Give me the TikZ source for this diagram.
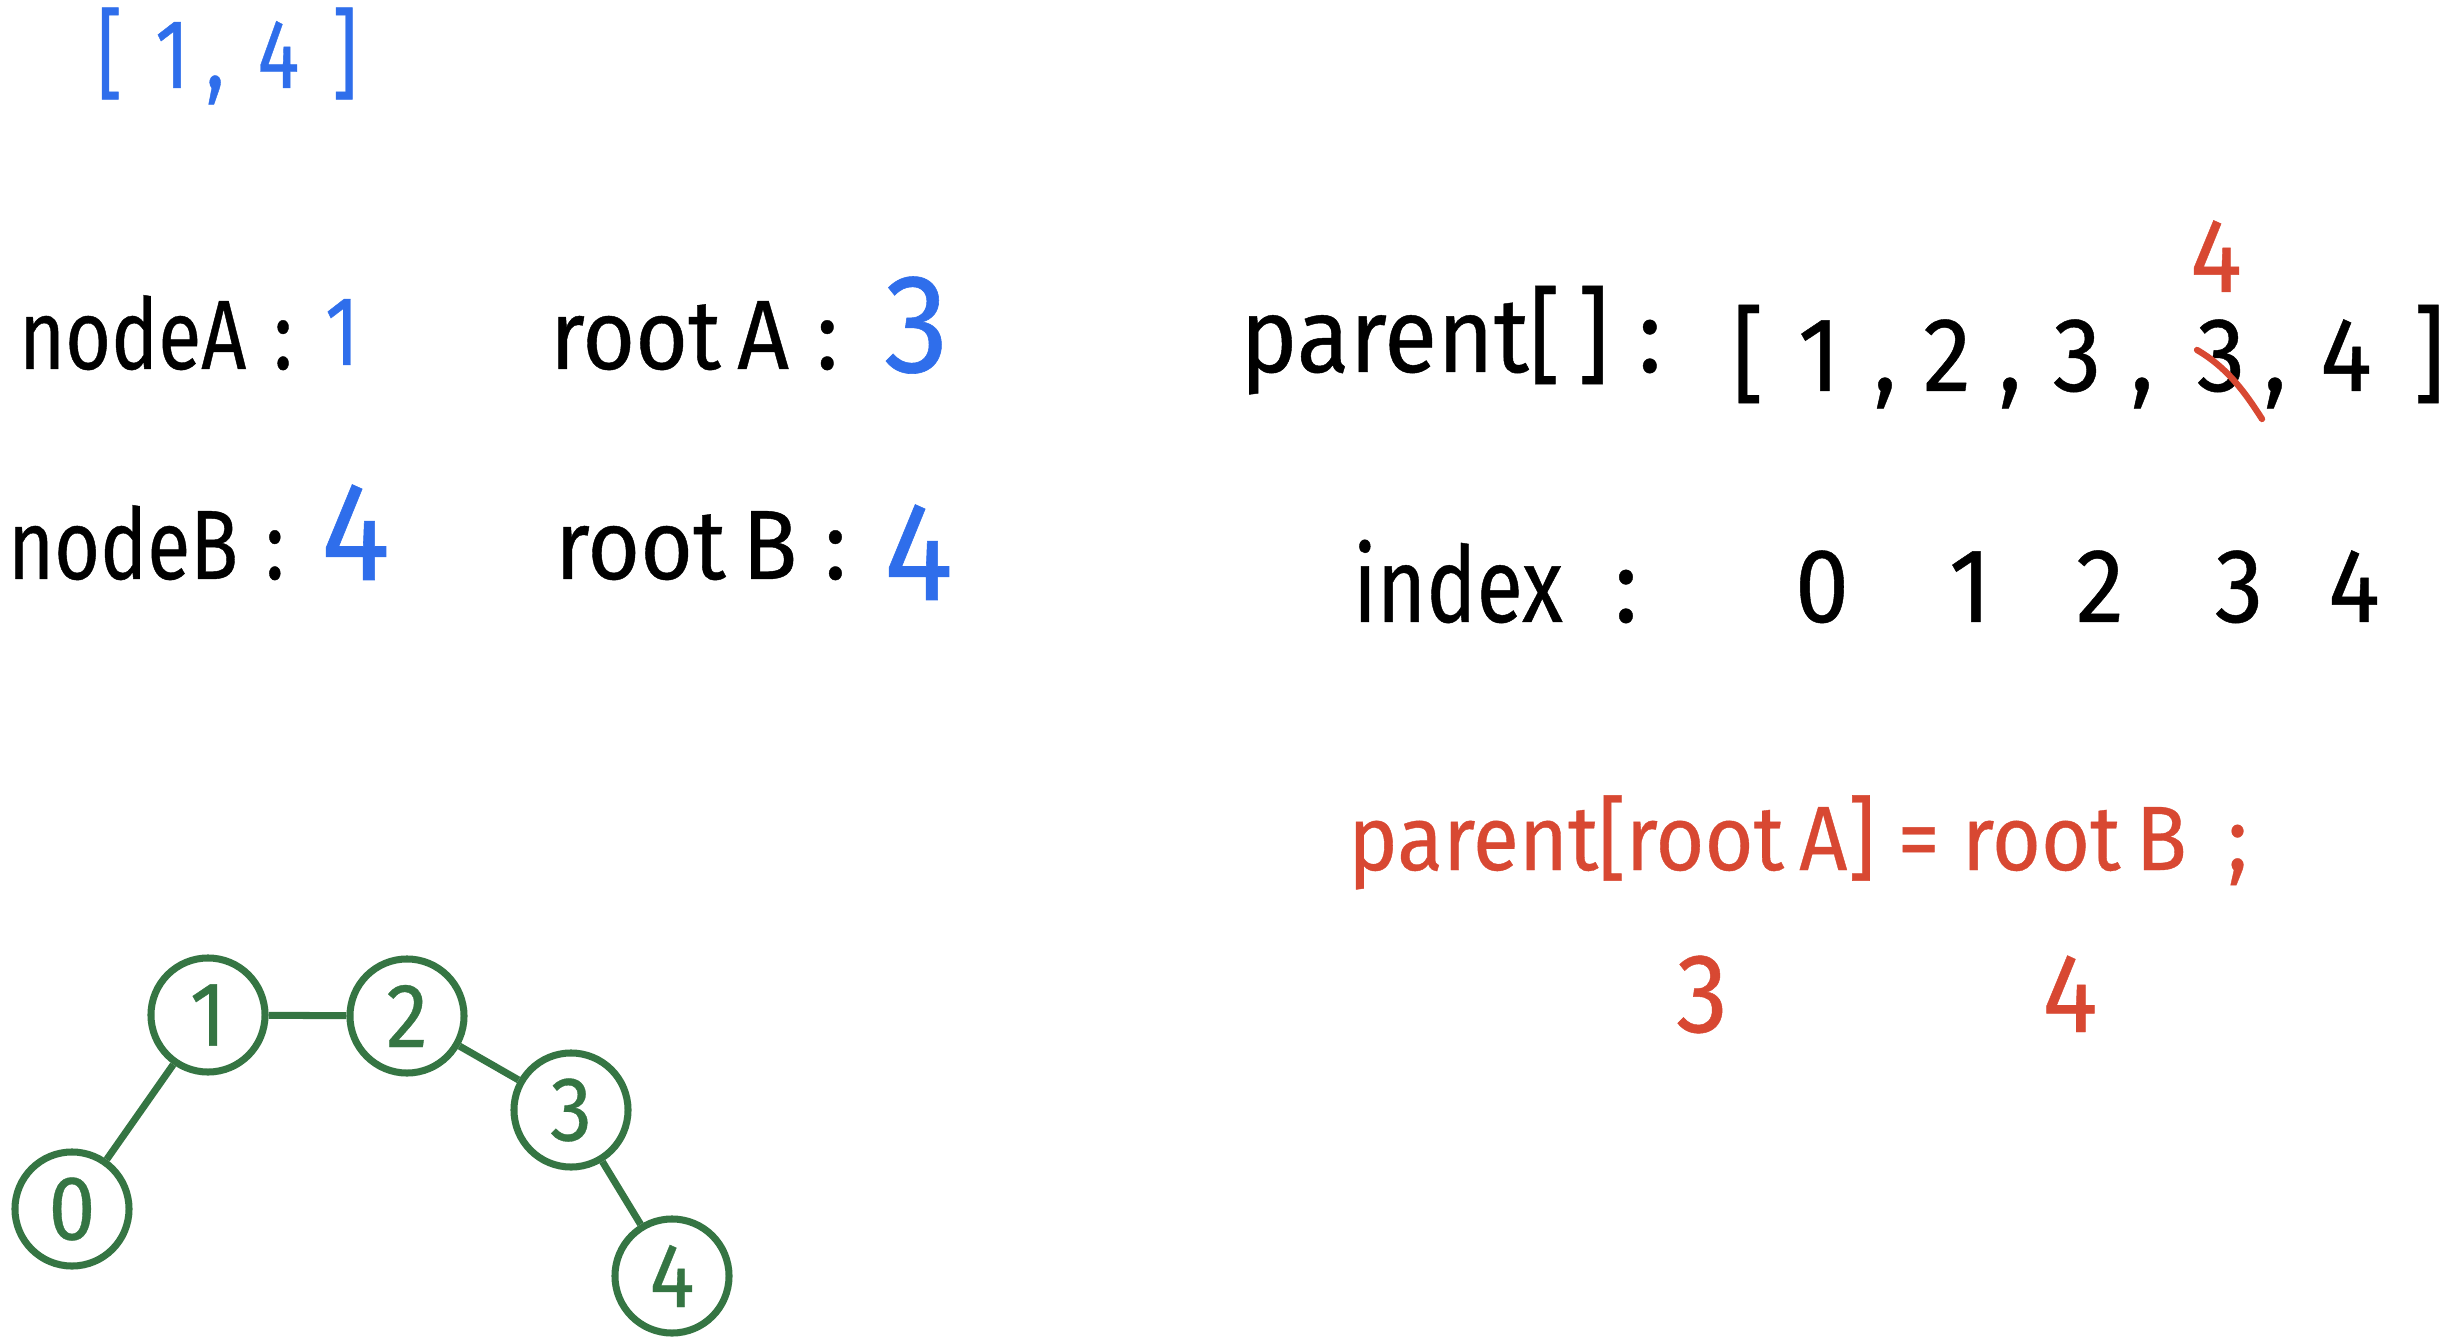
\documentclass[tikz,border=0pt]{standalone}
\usepackage{fontspec}
\setmainfont{Fira Sans}[FakeStretch=0.8,FakeBold=0.4]
\newfontfamily\widef{Fira Sans}[FakeStretch=0.92,FakeBold=0.4]
\definecolor{hblue}{RGB}{47,110,235}
\definecolor{hred}{RGB}{216,72,50}
\definecolor{hgreen}{RGB}{53,117,67}
\newcommand\fsz[1]{\fontsize{#1}{#1}\selectfont}
\begin{document}
\begin{tikzpicture}[x=0.01cm,y=-0.01cm,
  lbl/.style={anchor=base west,inner sep=0pt,outer sep=0pt},
  cell/.style={anchor=base,inner sep=0pt,outer sep=0pt},
  circ/.style={circle,draw=hgreen,line width=2pt,minimum size=1.14cm,inner sep=0pt,text=hgreen,font=\widef\fsz{26}},
  gline/.style={draw=hgreen,line width=2pt},
  strike/.style={draw=hred,line width=1.8pt,line cap=round}]
\useasboundingbox (0,0) rectangle (2452,1340);
% top range
\node[lbl,text=hblue,font=\fsz{28}] (range) at (97,88) {[\,\,1\,,\,\,4\,\,]};
% node / root values
\node[lbl,font=\fsz{28}] (nA) at (19,369) {nodeA\;:};
\node[lbl,text=hblue,font=\fsz{28}] (vA) at (325,365) {1};
\node[lbl,font=\widef\fsz{28}] (rA) at (550,369) {root\,A\;:};
\node[lbl,text=hblue,font=\widef\fsz{40}] (vrA) at (884,372) {3};
\node[lbl,font=\fsz{28}] (nB) at (8,579) {nodeB\;:};
\node[lbl,text=hblue,font=\widef\fsz{40}] (vB) at (321,580) {4};
\node[lbl,font=\widef\fsz{28}] (rB) at (555,579) {root\,B\;:};
\node[lbl,text=hblue,font=\widef\fsz{40}] (vrB) at (884,600) {4};
% parent array
\node[lbl,font=\widef\fsz{30}] (par) at (1240,372) {parent[\,]\;:};
\foreach \x/\s/\n in {1748/[/a0,1819/1/a1,1885/{,}/a2,1947/2/a3,2010/{,}/a4,2077/3/a5,2142/{,}/a6,2221/3/a7,2275/{,}/a8,2346/4/a9,2429/]/a10}
  \node[cell,font=\widef\fsz{30}] (\n) at (\x,391) {\s};
\node[cell,text=hred,font=\widef\fsz{30}] (new4) at (2216,292) {4};
\draw[strike] (2197,350) .. controls (2228,368) and (2246,394) .. (2262,419);
% index row
\node[lbl,font=\fsz{30}] (idx) at (1353,622) {index};
\node[cell,font=\widef\fsz{30}] (idxc) at (1626,622) {:};
\foreach \x/\s/\n in {1822/0/i0,1970/1/i1,2100/2/i2,2239/3/i3,2354/4/i4}
  \node[cell,font=\widef\fsz{30}] (\n) at (\x,622) {\s};
% red statement
\node[lbl,text=hred,font=\widef\fsz{26}] (eq) at (1348,870) {parent[root\,A] = root\,B\;\,;};
\node[cell,text=hred,font=\widef\fsz{32}] (r3) at (1702,1032) {3};
\node[cell,text=hred,font=\widef\fsz{32}] (r4) at (2070,1032) {4};
% tree
\node[circ] (g1) at (208,1015) {1};
\node[circ] (g0) at (72,1209) {0};
\node[circ] (g2) at (407,1016) {2};
\node[circ] (g3) at (571,1110) {3};
\node[circ] (g4) at (672,1276) {4};
\draw[gline] (g1) -- (g0);
\draw[gline] (g1) -- (g2);
\draw[gline] (g2) -- (g3);
\draw[gline] (g3) -- (g4);
\end{tikzpicture}
\end{document}
